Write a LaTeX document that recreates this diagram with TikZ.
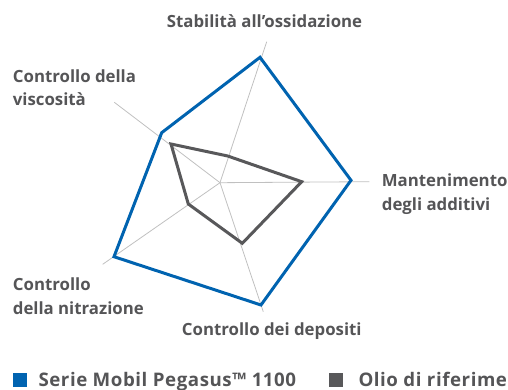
\documentclass[tikz,border=0pt]{standalone}
\usepackage{fontspec}
\setmainfont{Open Sans}
\newfontfamily\legfont{Open Sans}[LetterSpace=3]
\definecolor{mblue}{RGB}{0,99,176}
\definecolor{mgray}{RGB}{88,88,90}
\definecolor{mtext}{RGB}{85,85,87}
\definecolor{maxis}{RGB}{192,192,192}
\begin{document}
\begin{tikzpicture}[x=1pt,y=-1pt,
  lbl/.style={anchor=base west,inner sep=0pt,text=mtext,font=\fontsize{16.8}{18}\selectfont\bfseries},
  leg/.style={lbl,font=\legfont\fontsize{18.7}{20}\selectfont\bfseries},
  axisline/.style={draw=maxis,line width=0.8pt},
  series/.style={line width=3pt,line join=miter},
  swatch/.style={inner sep=0pt,minimum width=14pt,minimum height=13.5pt}]
\clip (0,0) rectangle (508,390);
\useasboundingbox (0,0) rectangle (508,390);
% center and axis ends
\coordinate (c) at (220,182.7);
\coordinate (aT) at (266.7,41.7);
\coordinate (aR) at (369.3,181.7);
\coordinate (aB) at (263.3,311.7);
\coordinate (aLL) at (102.7,264.3);
\coordinate (aUL) at (114.3,102.3);
\foreach \e in {aT,aR,aB,aLL,aUL} \draw[axisline] (c) -- (\e);
% blue series
\coordinate (bT) at (260,57.3);
\coordinate (bR) at (351,180.3);
\coordinate (bB) at (261,305);
\coordinate (bLL) at (114,256.7);
\coordinate (bUL) at (161.7,132.7);
\draw[series,mblue] (bT) -- (bR) -- (bB) -- (bLL) -- (bUL) -- cycle;
% gray series
\coordinate (gT) at (227.7,156);
\coordinate (gR) at (301.7,181.7);
\coordinate (gB) at (242.3,243.3);
\coordinate (gLL) at (188.3,204);
\coordinate (gUL) at (171,144);
\draw[series,mgray] (gT) -- (gR) -- (gB) -- (gLL) -- (gUL) -- cycle;
% labels
\node[lbl] (l1) at (166.7,28) {Stabilità all’ossidazione};
\node[lbl] (l2a) at (381.7,186.7) {Mantenimento};
\node[lbl] (l2b) at (381.7,210.5) {degli additivi};
\node[lbl] (l3) at (181.7,335) {Controllo dei depositi};
\node[lbl] (l4a) at (12.7,290) {Controllo};
\node[lbl] (l4b) at (12.7,314) {della nitrazione};
\node[lbl] (l5a) at (12.7,82.3) {Controllo della};
\node[lbl] (l5b) at (12.7,105.7) {viscosità};
% legend
\node[swatch,fill=mblue] (sw1) at (19.7,380) {};
\node[leg] (lg1) at (38.3,386.7) {Serie Mobil Pegasus™ 1100};
\node[swatch,fill=mgray] (sw2) at (336.3,380) {};
\node[leg] (lg2) at (358.3,386.7) {Olio di riferimento};
\end{tikzpicture}
\end{document}
